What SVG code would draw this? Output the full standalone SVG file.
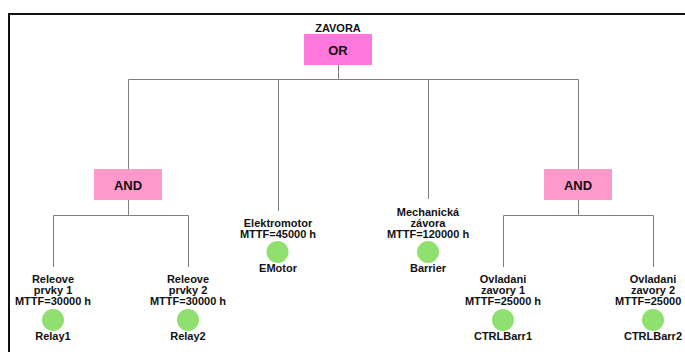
<svg xmlns="http://www.w3.org/2000/svg" width="685" height="352" viewBox="0 0 685 352">
<style>
text{font-family:"Liberation Sans",Arial,sans-serif;font-weight:bold;fill:#111;text-anchor:middle;font-size:11px}
.g{font-size:13px}
.c{fill:none;stroke:#808080;stroke-width:1}
.or{fill:#FF77DD}
.and{fill:#FF99CC}
.ev{fill:#90E070}
</style>
<rect x="9" y="14" width="700" height="360" fill="#fff" stroke="#111" stroke-width="2"/>
<g id="connectors" class="c">
<path d="M338.5 65V79.5M128.5 79.5H578.5M128.5 79.5V169M278.5 79.5V211M428.5 79.5V199M578.5 79.5V169"/>
<path d="M128.5 200V215.5M53.5 215.5H188.5M53.5 215.5V267M188.5 215.5V267"/>
<path d="M578.5 200V215.5M503.5 215.5H653.5M503.5 215.5V267M653.5 215.5V267"/>
</g>
<g id="zavora">
<text x="338" y="31.5">ZAVORA</text>
<rect class="or" x="304" y="34" width="68" height="31"/>
<text class="g" x="338" y="55">OR</text>
</g>
<g id="and1">
<rect class="and" x="94" y="169" width="68" height="31"/>
<text class="g" x="128" y="190">AND</text>
</g>
<g id="and2">
<rect class="and" x="544" y="169" width="68" height="31"/>
<text class="g" x="578" y="190">AND</text>
</g>
<g id="relay1">
<text x="53" y="283">Releove</text>
<text x="53" y="294">prvky 1</text>
<text x="53" y="305">MTTF=30000 h</text>
<circle class="ev" cx="53" cy="320" r="11"/>
<text x="53" y="340">Relay1</text>
</g>
<g id="relay2">
<text x="188" y="283">Releove</text>
<text x="188" y="294">prvky 2</text>
<text x="188" y="305">MTTF=30000 h</text>
<circle class="ev" cx="188" cy="320" r="11"/>
<text x="188" y="340">Relay2</text>
</g>
<g id="emotor">
<text x="278" y="226.5">Elektromotor</text>
<text x="278" y="237.5">MTTF=45000 h</text>
<circle class="ev" cx="277.5" cy="252" r="11"/>
<text x="278" y="271.5">EMotor</text>
</g>
<g id="barrier">
<text x="428" y="215.5">Mechanická</text>
<text x="428" y="226.5">závora</text>
<text x="428" y="237.5">MTTF=120000 h</text>
<circle class="ev" cx="428" cy="252" r="11"/>
<text x="428" y="271.5">Barrier</text>
</g>
<g id="ctrlbarr1">
<text x="503" y="283">Ovladani</text>
<text x="503" y="294">zavory 1</text>
<text x="503" y="305">MTTF=25000 h</text>
<circle class="ev" cx="503" cy="320" r="11"/>
<text x="503" y="340">CTRLBarr1</text>
</g>
<g id="ctrlbarr2">
<text x="653" y="283">Ovladani</text>
<text x="653" y="294">zavory 2</text>
<text x="615" y="305" style="text-anchor:start">MTTF=25000</text>
<circle class="ev" cx="653" cy="320" r="11"/>
<text x="653" y="340">CTRLBarr2</text>
</g>
</svg>
